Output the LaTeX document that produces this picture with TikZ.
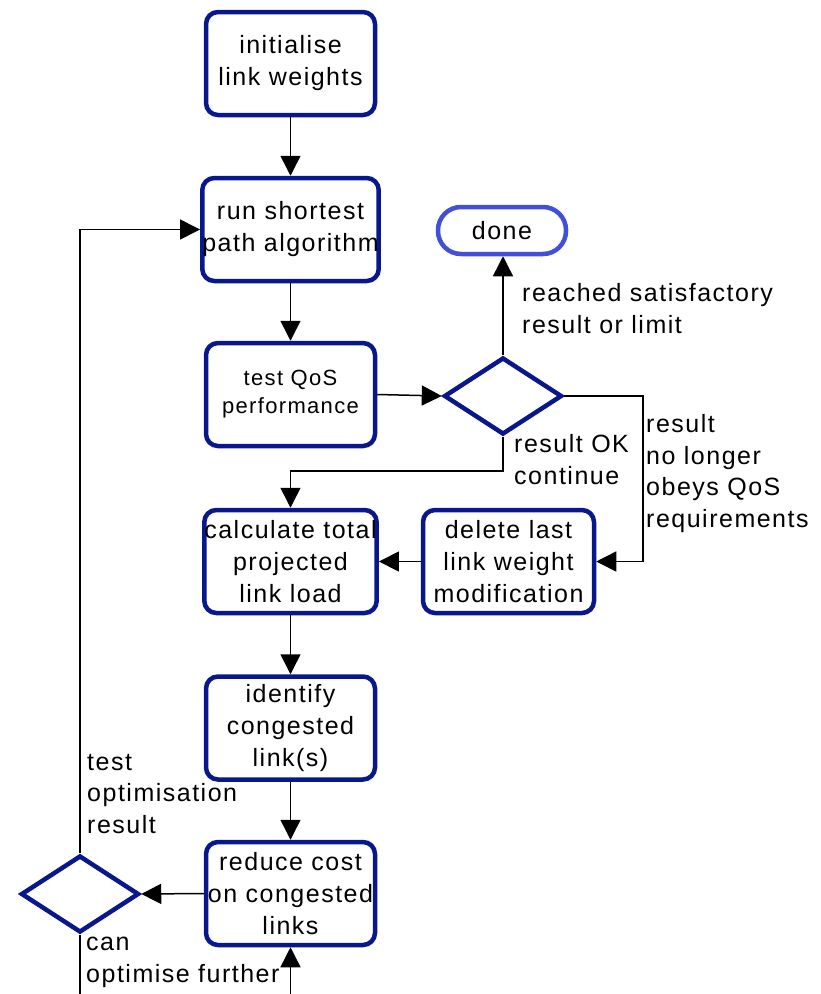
\documentclass[tikz,border=0pt]{standalone}
\usepackage{fontspec}
\setmainfont{Liberation Sans}[LetterSpace=6.0]
\usetikzlibrary{shapes.geometric,arrows.meta}
\definecolor{boxblue}{RGB}{8,24,140}
\definecolor{doneblue}{RGB}{66,80,216}
\tikzset{
  stepbox/.style={draw=boxblue, line width=4.5pt, rounded corners=12pt,
    minimum width=169pt, minimum height=103pt, inner sep=0pt, align=center,
    font=\fontsize{25}{32}\selectfont},
  decision/.style={draw=boxblue, line width=4.5pt, diamond, inner sep=0pt,
    minimum width=118pt, minimum height=77pt},
  endbox/.style={draw=doneblue, line width=4.5pt, rounded corners=23pt,
    minimum width=128pt, minimum height=47pt, inner sep=0pt,
    font=\fontsize{25}{32}\selectfont},
  flow/.style={line width=1.5pt, -{Triangle[length=20pt,width=20pt]}},
  plain/.style={line width=1.5pt},
  % anchored at the baseline of the last line
  caption/.style={align=left, inner sep=0pt, anchor=base west,
    font=\fontsize{25}{31.5}\selectfont},
}
\begin{document}
\begin{tikzpicture}[x=1pt,y=-1pt]
\useasboundingbox (0,0) rectangle (821,994);

% main column of process steps
\node[stepbox] (init)   at (290.5,63.5)  {initialise\\link weights};
\node[stepbox] (run)    at (290.5,229.5) {run shortest\\path algorithm};
\node[stepbox, font=\fontsize{22}{28}\selectfont] (test) at (290.5,394.5) {test QoS\\performance};
\node[stepbox] (calc)   at (290.5,561.5) {calculate total\\projected\\link load};
\node[stepbox] (ident)  at (290.5,728)   {identify\\congested\\link(s)};
\node[stepbox] (reduce) at (290.5,893.5) {reduce cost\\on congested\\links};
\node[stepbox, minimum width=171pt] (del) at (508.5,561.5) {delete last\\link weight\\modification};

% decisions and terminal
\node[decision] (qos) at (503,396) {};
\node[decision] (opt) at (80,894) {};
\node[endbox] (done) at (502,230.5) {done};

% bends and free ends at the lower edge
\coordinate (okturn) at (503,471);
\coordinate (failturn) at (643,396);
\coordinate (optout) at (80,994);
\coordinate (loopin) at (290.5,994);

% connectors
\draw[flow] (init) -- (run);
\draw[flow] (run) -- (test);
\draw[flow] (test.east) -- (qos.west);
\draw[flow] (qos.north) -- (qos.north |- done.south);
\draw[flow] (qos.east) -- (failturn) |- (del.east);
\draw[flow] (qos.south) -- (okturn) -| (calc.north);
\draw[flow] (del.west) -- (calc.east);
\draw[flow] (calc) -- (ident);
\draw[flow] (ident) -- (reduce);
\draw[flow] (reduce.west) -- (opt.east);
\draw[flow] (opt.north) |- (run.west);
\draw[plain] (opt.south) -- (optout);
\draw[flow] (loopin) -- (reduce.south);

% branch labels
\node[caption] (lsat) at (522,333) {reached satisfactory\\result or limit};
\node[caption] (lok) at (514,484) {result OK\\continue};
\node[caption] (lfail) at (646,527) {result\\no longer\\obeys QoS\\requirements};
\node[caption] (ltest) at (87,833) {test\\optimisation\\result};
\node[caption] (lcan) at (86,982) {can\\optimise further};
\end{tikzpicture}
\end{document}
